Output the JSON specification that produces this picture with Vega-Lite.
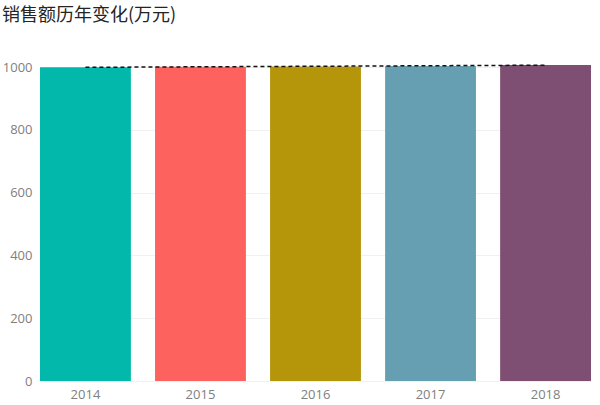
{
  "$schema": "https://vega.github.io/schema/vega-lite/v6.json",
  "autosize": {"type": "none"},
  "padding": {"left": 40, "top": 64, "right": 9, "bottom": 24},
  "width": 551,
  "height": 317,
  "title": {
    "text": "销售额历年变化(万元)",
    "anchor": "start",
    "frame": "group",
    "dx": -38,
    "offset": 36,
    "font": "Noto Sans CJK SC",
    "fontSize": 18,
    "fontWeight": "normal",
    "color": "#252423"
  },
  "config": {
    "view": {"stroke": null},
    "font": "Open Sans"
  },
  "data": {
    "values": [
      {"year": 2014, "sales": 1000},
      {"year": 2015, "sales": 1001},
      {"year": 2016, "sales": 1002},
      {"year": 2017, "sales": 1004},
      {"year": 2018, "sales": 1007}
    ]
  },
  "encoding": {
    "x": {
      "field": "year",
      "type": "ordinal",
      "title": null,
      "scale": {"paddingInner": 0.21, "paddingOuter": 0},
      "axis": {
        "labelAngle": 0,
        "labelFontSize": 13,
        "labelColor": "#808080",
        "labelPadding": 7,
        "ticks": false,
        "domain": false
      }
    },
    "y": {
      "field": "sales",
      "type": "quantitative",
      "title": null,
      "scale": {"domain": [0, 1010], "nice": false},
      "axis": {
        "values": [0, 200, 400, 600, 800, 1000],
        "format": "d",
        "labelFontSize": 13,
        "labelColor": "#808080",
        "labelPadding": 8,
        "ticks": false,
        "domain": false,
        "gridColor": "#f0f0f0",
        "gridWidth": 1
      }
    }
  },
  "layer": [
    {
      "mark": {"type": "bar"},
      "encoding": {
        "color": {
          "field": "year",
          "type": "nominal",
          "legend": null,
          "scale": {"range": ["#01B8AA", "#FD625E", "#B5960A", "#679FB2", "#7F4F73"]}
        }
      }
    },
    {
      "transform": [{"regression": "sales", "on": "year"}],
      "mark": {"type": "line", "color": "#111111", "strokeWidth": 1.5, "strokeDash": [4, 3]},
      "encoding": {}
    }
  ]
}
